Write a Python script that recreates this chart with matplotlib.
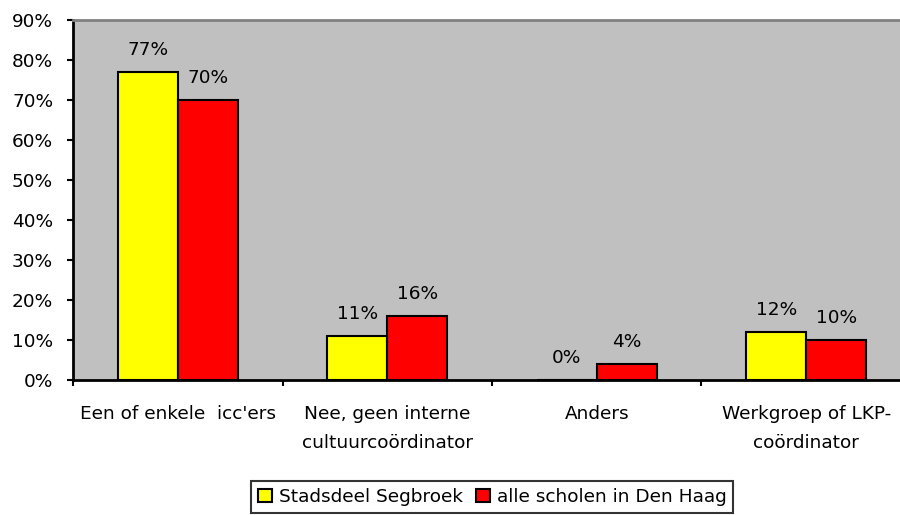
import matplotlib.pyplot as plt
import numpy as np

# Dados
categorieen = ["Een of enkele  icc'ers", "Nee, geen interne\ncultuurcoördinator",
               "Anders", "Werkgroep of LKP-\ncoördinator"]
segbroek = [77, 11, 0, 12]
den_haag = [70, 16, 4, 10]
series = ["Stadsdeel Segbroek", "alle scholen in Den Haag"]

plt.rcParams['font.family'] = ['DejaVu Sans']
fs = 13.3

fig = plt.figure(figsize=(9, 5.15), dpi=100)
ax = fig.add_axes([73 / 900, 1 - 380 / 515, 838 / 900, 360 / 515])
ax.set_facecolor('#c0c0c0')

x = np.arange(len(categorieen))
w = 0.2857
b1 = ax.bar(x - w / 2, segbroek, w, color='#ffff00', edgecolor='black', linewidth=1.5,
            label=series[0])
b2 = ax.bar(x + w / 2, den_haag, w, color='#ff0000', edgecolor='black', linewidth=1.5,
            label=series[1])

for bars, vals in ((b1, segbroek), (b2, den_haag)):
    for b, v in zip(bars, vals):
        ax.text(b.get_x() + b.get_width() / 2, v + 3.2, f"{v}%", ha='center', va='bottom',
                fontsize=fs)

ax.set_xlim(-0.5, len(categorieen) - 0.5)
ax.set_ylim(0, 90)
ax.set_yticks(range(0, 91, 10))
ax.set_yticklabels([f"{v}%" for v in range(0, 91, 10)], fontsize=fs)

ax.set_xticks(np.arange(len(categorieen) + 1) - 0.5)
ax.set_xticklabels([])
ax.set_xticks(x, minor=True)
ax.set_xticklabels(categorieen, minor=True, fontsize=fs, linespacing=1.75)
ax.tick_params(axis='x', which='minor', length=0, pad=18)
ax.tick_params(axis='x', which='major', length=4.3, width=1.5, direction='out')
ax.tick_params(axis='y', length=4.3, width=1.5, direction='out', pad=10)

for s in ('left', 'bottom'):
    ax.spines[s].set_linewidth(2)
ax.spines['top'].set_color('#808080')
ax.spines['top'].set_linewidth(2)
ax.spines['right'].set_visible(False)

leg = fig.legend(handles=[b1, b2], labels=series, loc='center', bbox_to_anchor=(492 / 900, 1 - 497 / 515),
                 ncol=2, frameon=True, fancybox=False, edgecolor='black', fontsize=fs,
                 handlelength=0.76, handleheight=0.76, handletextpad=0.38, columnspacing=0.7,
                 borderpad=0.38, borderaxespad=0)
leg.get_frame().set_linewidth(1.5)

fig.savefig('out.png', dpi=100)
